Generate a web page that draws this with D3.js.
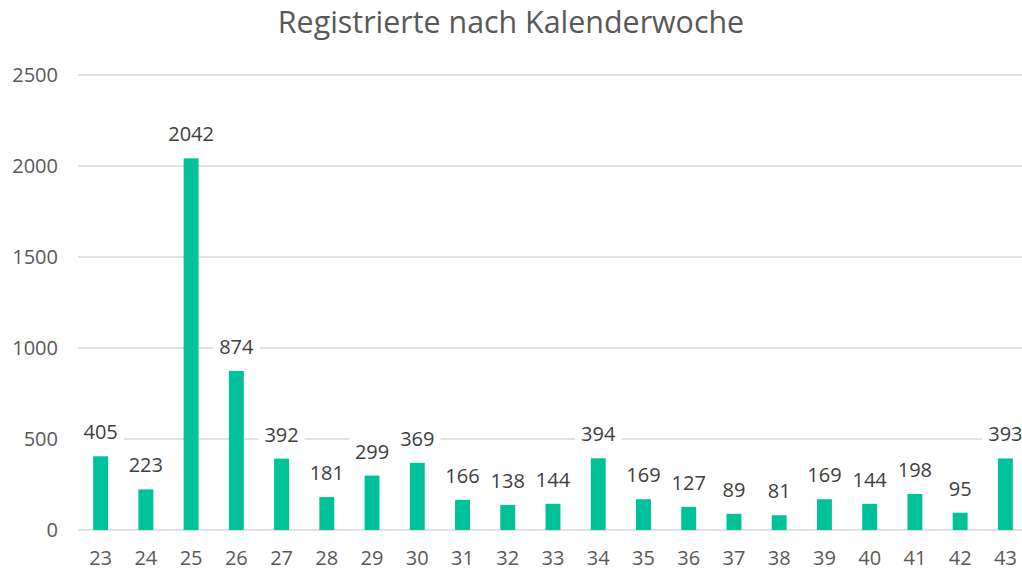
<!DOCTYPE html>
<html>
<head>
<meta charset="utf-8">
<script src="https://cdn.jsdelivr.net/npm/d3@7"></script>
<style>
  body { margin: 0; background: #fff; }
  svg { display: block; font-family: "Open Sans", sans-serif; }
</style>
</head>
<body>
<svg width="1022" height="571"></svg>
<script>
// Kalenderwochen und Registrierte
var weeks = ["23","24","25","26","27","28","29","30","31","32","33","34","35","36","37","38","39","40","41","42","43"];
var counts = [405,223,2042,874,392,181,299,369,166,138,144,394,169,127,89,81,169,144,198,95,393];
var yTicks = [0,500,1000,1500,2000,2500];
var title = "Registrierte nach Kalenderwoche";

var svg = d3.select("svg"),
    plotLeft = 78, plotRight = 1028, plotTop = 75, plotBottom = 530;

var x = d3.scaleBand()
    .domain(weeks)
    .range([plotLeft, plotRight])
    .paddingInner(0.67)
    .paddingOuter(0.335);

var y = d3.scaleLinear()
    .domain([0, 2500])
    .range([plotBottom, plotTop]);

// titel
svg.append("text")
    .attr("x", 511)
    .attr("y", 33)
    .attr("text-anchor", "middle")
    .attr("fill", "#595959")
    .style("font-size", "30.4px")
    .text(title);

// gitterlinien
svg.append("g").selectAll("line")
    .data(yTicks)
    .enter().append("line")
    .attr("x1", plotLeft)
    .attr("x2", 1022)
    .attr("y1", function(d) { return y(d); })
    .attr("y2", function(d) { return y(d); })
    .attr("stroke", "#d9d9d9")
    .attr("stroke-width", 1.5);

// y achse
var yAxis = svg.append("g")
    .attr("transform", "translate(" + (plotLeft - 20) + ",0)")
    .call(d3.axisLeft(y).tickValues(yTicks).tickFormat(d3.format("d")).tickSize(0).tickPadding(0));
yAxis.select(".domain").remove();
yAxis.selectAll("text")
    .attr("fill", "#595959")
    .style("font-size", "20px")
    .style("font-family", "Open Sans");

// x achse
var xAxis = svg.append("g")
    .attr("transform", "translate(0," + (plotBottom + 21) + ")")
    .call(d3.axisBottom(x).tickSize(0).tickPadding(0));
xAxis.select(".domain").remove();
xAxis.selectAll("text")
    .attr("fill", "#595959")
    .style("font-size", "20px")
    .style("font-family", "Open Sans");

// balken
svg.append("g").selectAll("rect")
    .data(counts)
    .enter().append("rect")
    .attr("x", function(d, i) { return x(weeks[i]); })
    .attr("y", function(d) { return y(d); })
    .attr("width", x.bandwidth())
    .attr("height", function(d) { return plotBottom - y(d); })
    .attr("fill", "#00c29a");

// beschriftungen mit weissem hintergrund
var lab = svg.append("g").selectAll("g")
    .data(counts)
    .enter().append("g");

lab.append("text")
    .attr("x", function(d, i) { return x(weeks[i]) + x.bandwidth() / 2; })
    .attr("y", function(d) { return y(d) - 17; })
    .attr("text-anchor", "middle")
    .attr("fill", "#404040")
    .style("font-size", "20px")
    .text(function(d) { return d; });

lab.each(function() {
    var t = d3.select(this).select("text"),
        b = t.node().getBBox();
    d3.select(this).insert("rect", "text")
        .attr("x", b.x - 6)
        .attr("y", b.y - 2)
        .attr("width", b.width + 12)
        .attr("height", b.height + 4)
        .attr("fill", "#fff");
});
</script>
</body>
</html>
